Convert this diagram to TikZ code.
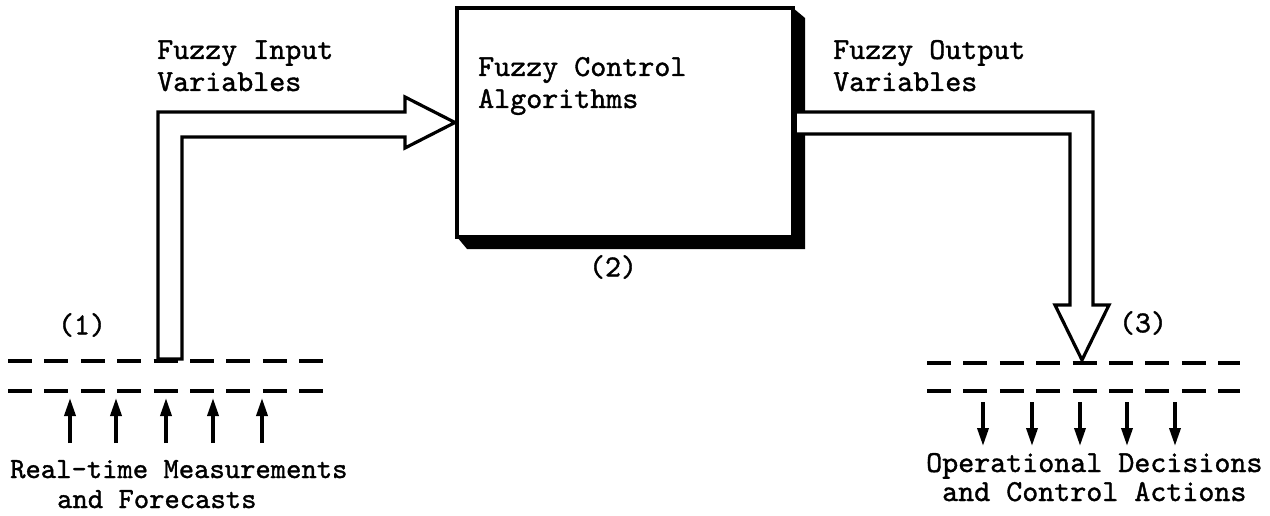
\documentclass[tikz,border=0pt]{standalone}
\usepackage{fontspec}
\usetikzlibrary{arrows.meta}
\newfontfamily\typer{lmmono10-regular.otf}[FakeBold=1.2]
\begin{document}
\begin{tikzpicture}[x=1pt,y=-1pt,
  lbl/.style={font=\fontsize{30.5}{32}\selectfont\typer, inner sep=0pt, anchor=base west, align=left},
  tag/.style={font=\fontsize{30.5}{32}\selectfont\typer, inner sep=0pt},
  bus/.style={line width=4pt, dash pattern=on 24pt off 12.4pt},
  feed/.style={line width=3.5pt, -{Triangle[length=18pt,width=11pt]}},
  fat/.style={line width=3.2pt, fill=white, line join=miter, miter limit=20},
  block/.style={draw, line width=4pt, fill=white, minimum width=336pt, minimum height=229pt, inner sep=0pt}]
\useasboundingbox (0,0) rectangle (1270,516);

% control block with its drop shadow
\fill (793,8) -- (805,18) -- (805,249) -- (467,249) -- (457,237) -- cycle;
\node[block] (ctl) at (625,122.5) {};
% multi-line labels are placed by the baseline of their last line
\node[lbl] (ctltext) at (478,108) {Fuzzy Control\\Algorithms};
\node[tag] (n2) at (613,267) {(2)};

% measurement bus (left)
\coordinate (inbase) at (170,359);
\draw[bus] (8,361) -- (323,361);
\draw[bus] (8,391) -- (323,391);
\foreach \i/\x in {1/70,2/116,3/166,4/213,5/262}{
  \coordinate (ms\i) at (\x,443);
  \coordinate (me\i) at (\x,398);
  \draw[feed] (ms\i) -- (me\i);
}
\node[tag] (n1) at (82,325) {(1)};
\node[lbl, font=\fontsize{29.2}{32}\selectfont\typer] (meas) at (10,508)
  {Real-time Measurements\\[-2pt]\hspace*{47pt}and Forecasts};

% input arrow into the block
\path[fat,draw] ([xshift=12pt]inbase) -- (182,137) -- (405,137) -- (405,148) -- (ctl.west)
  -- (405,97) -- (405,112) -- (158,112) -- ([xshift=-12pt]inbase) -- cycle;
\node[lbl] (inlbl) at (157,91) {Fuzzy Input\\Variables};

% action bus (right)
\coordinate (act) at (1082,360);
\draw[bus] (927,363) -- (1240,363);
\draw[bus] (927,391) -- (1240,391);
\foreach \i/\x in {1/983,2/1032,3/1080,4/1127,5/1175}{
  \coordinate (as\i) at (\x,402);
  \coordinate (ae\i) at (\x,446);
  \draw[feed] (as\i) -- (ae\i);
}
\node[tag] (n3) at (1143,323) {(3)};
\node[lbl] (acts) at (926,501) {Operational Decisions\\[-3pt]\hspace*{16pt}and Control Actions};

% output arrow from the block
\path[fat,draw] ([xshift=2pt]ctl.east |- 0,112) -- (1093,112) -- (1093,305) -- (1109,305) -- (act)
  -- (1055,305) -- (1070,305) -- (1070,134) -- ([xshift=2pt]ctl.east |- 0,134);
\node[lbl] (outlbl) at (833,91) {Fuzzy Output\\Variables};
\end{tikzpicture}
\end{document}
